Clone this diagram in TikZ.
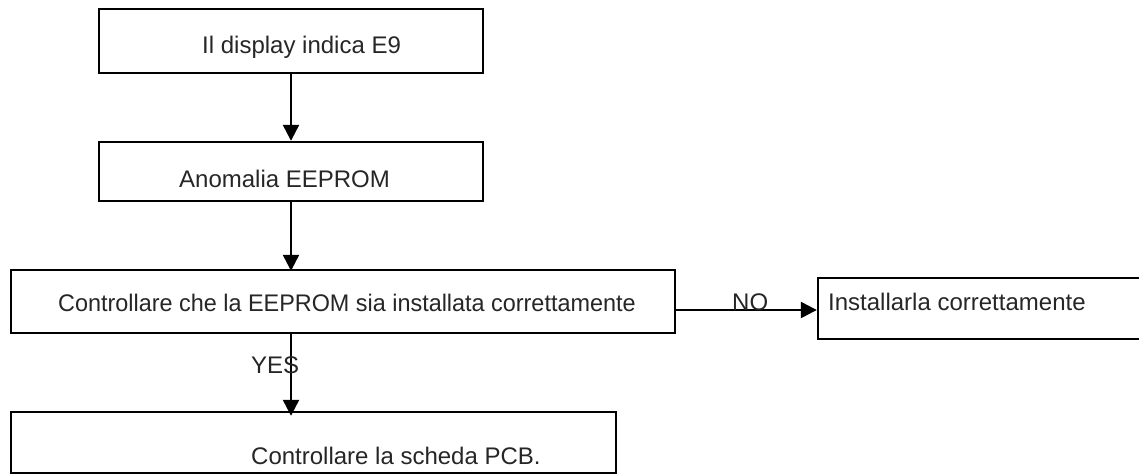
\documentclass[tikz,border=0pt]{standalone}
\usepackage{fontspec}
\setmainfont{Liberation Sans}
\usetikzlibrary{arrows.meta}
\begin{document}
\begin{tikzpicture}[x=1pt,y=-1pt,
  box/.style={draw=black, line width=2.4pt, rectangle, inner sep=0pt},
  txt/.style={anchor=base west, inner sep=0pt, text=black!85, font=\fontsize{24}{28}\selectfont},
  arr/.style={draw=black, line width=2.4pt, -{Triangle[length=16pt,width=16pt]}}]
\clip (0,0) rectangle (1139,474);
\useasboundingbox (0,0) rectangle (1139,474);
% boxes
\node[box, minimum width=384pt, minimum height=64pt] (b1) at (291,41) {};
\node[box, minimum width=384pt, minimum height=59pt] (b2) at (291,171.5) {};
\node[box, minimum width=664pt, minimum height=63pt] (b3) at (343,301.5) {};
\node[box, minimum width=324pt, minimum height=61pt] (b4) at (980,308.5) {};
\node[box, minimum width=605pt, minimum height=61pt] (b5) at (313.5,442.5) {};
% texts
\node[txt] (t1) at (202,53) {Il display indica E9};
\node[txt] (t2) at (179,187) {Anomalia EEPROM};
\node[txt] (t3) at (58,311) {\scalebox{0.975}[1]{Controllare che la EEPROM sia installata correttamente}};
\node[txt] (t4) at (828,310) {Installarla correttamente};
\node[txt] (t5) at (251,464) {Controllare la scheda PCB.};
% connectors
\draw[arr] (b1.south) -- (b2.north);
\draw[arr] (b2.south) -- ([yshift=-2pt]b2.south |- b3.north);
\draw[arr] (b3.south -| b1.south) -- ([yshift=-5pt]b5.north -| b1.south);
\draw[arr] ([yshift=-1.5pt]b4.west -| b3.east) -- ([yshift=-1.5pt]b4.west);
% labels
\node[txt] (no) at (732,310) {NO};
\node[txt] (yes) at (251,373) {YES};
\end{tikzpicture}
\end{document}
